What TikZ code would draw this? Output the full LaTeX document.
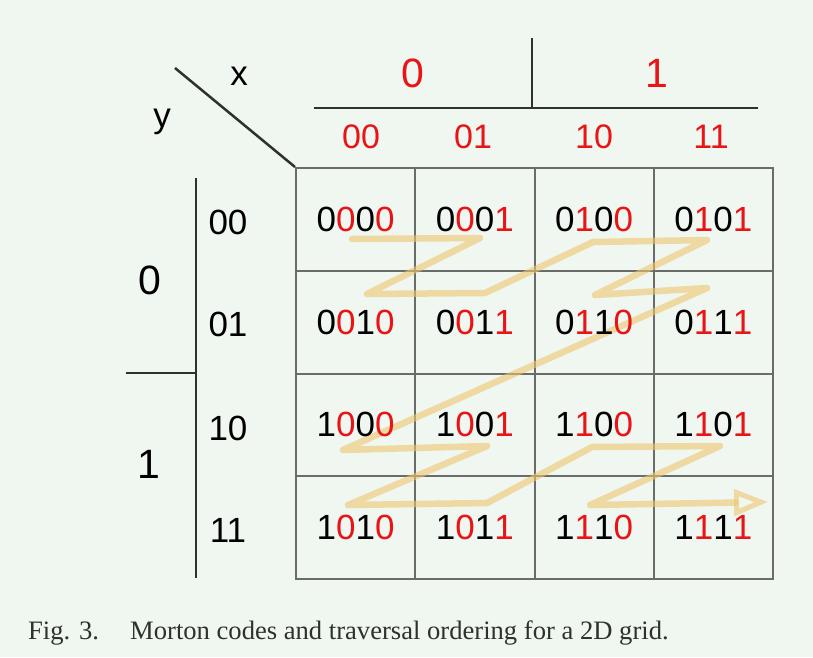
\documentclass[tikz,border=0pt]{standalone}
\usepackage{fontspec}
\setmainfont{Liberation Sans}
\newfontfamily\capfont{Liberation Serif}
\usetikzlibrary{arrows.meta}
\definecolor{bgc}{RGB}{240,246,240}
\definecolor{redc}{RGB}{232,20,22}
\definecolor{gridc}{RGB}{105,108,105}
\definecolor{linec}{RGB}{45,50,45}
\definecolor{pathc}{RGB}{236,199,109}
\newcommand{\mcode}[4]{#1\textcolor{redc}{#2}#3\textcolor{redc}{#4}}
\begin{document}
\begin{tikzpicture}[x=1pt,y=-1pt,
  cellbox/.style={draw=gridc,line width=2pt,minimum width=119.25pt,minimum height=102.75pt,inner sep=0pt,anchor=north west},
  codetxt/.style={inner sep=0pt,font=\fontsize{35}{40}\selectfont},
  sublbl/.style={inner sep=0pt,font=\fontsize{34}{40}\selectfont,text=redc},
  ylbl/.style={inner sep=0pt,font=\fontsize{35}{40}\selectfont},
  biglbl/.style={inner sep=0pt,font=\fontsize{41}{46}\selectfont},
  hdrline/.style={draw=linec,line width=2.5pt},
  zpath/.style={draw=pathc,opacity=0.6,line width=6.5pt,line join=round,line cap=round}
]
\fill[bgc] (0,0) rectangle (813,657);
\useasboundingbox (0,0) rectangle (813,657);
% grid cells
\foreach \r in {0,1,2,3}{
  \foreach \c in {0,1,2,3}{
    \node[cellbox] (cell\r\c) at ({295+119.25*\c},{167+102.75*\r}) {};
  }
}
% header lines
\coordinate (dgA) at (175,68);
\coordinate (dgB) at (295,167);
\draw[hdrline] (dgA) -- (dgB);
\coordinate (thL) at (314,108);
\coordinate (thR) at (758,108);
\coordinate (tvT) at (532,38);
\coordinate (tvB) at (532,108);
\draw[hdrline] (thL) -- (thR);
\draw[hdrline] (tvT) -- (tvB);
\coordinate (lvT) at (196,178);
\coordinate (lvB) at (196,578);
\coordinate (lhL) at (126,373);
\coordinate (lhR) at (196,373);
\draw[hdrline] (lvT) -- (lvB);
\draw[hdrline] (lhL) -- (lhR);
% zigzag path
\coordinate (p1) at (352,239);
\coordinate (p2) at (480,238);
\coordinate (p3) at (367,294);
\coordinate (p4) at (485,293);
\coordinate (p5) at (593,242);
\coordinate (p6) at (707,240);
\coordinate (p7) at (595,295);
\coordinate (p8) at (707,288);
\coordinate (p9) at (343,450);
\coordinate (p10) at (487,446);
\coordinate (p11) at (348,505);
\coordinate (p12) at (487,503);
\coordinate (p13) at (592,447);
\coordinate (p14) at (720,446);
\coordinate (p15) at (590,505);
\coordinate (p16) at (768,502);
\draw[zpath,-{Triangle[open,length=34pt,width=26pt,line width=5pt]}]
  (p1)--(p2)--(p3)--(p4)--(p5)--(p6)--(p7)--(p8)--(p9)--(p10)--(p11)--(p12)--(p13)--(p14)--(p15)--(p16);
% cell codes
\node[codetxt] (t00) at (cell00.center) {\mcode0000};
\node[codetxt] (t01) at (cell01.center) {\mcode0001};
\node[codetxt] (t02) at (cell02.center) {\mcode0100};
\node[codetxt] (t03) at (cell03.center) {\mcode0101};
\node[codetxt] (t10) at (cell10.center) {\mcode0010};
\node[codetxt] (t11) at (cell11.center) {\mcode0011};
\node[codetxt] (t12) at (cell12.center) {\mcode0110};
\node[codetxt] (t13) at (cell13.center) {\mcode0111};
\node[codetxt] (t20) at (cell20.center) {\mcode1000};
\node[codetxt] (t21) at (cell21.center) {\mcode1001};
\node[codetxt] (t22) at (cell22.center) {\mcode1100};
\node[codetxt] (t23) at (cell23.center) {\mcode1101};
\node[codetxt] (t30) at (cell30.center) {\mcode1010};
\node[codetxt] (t31) at (cell31.center) {\mcode1011};
\node[codetxt] (t32) at (cell32.center) {\mcode1110};
\node[codetxt] (t33) at (cell33.center) {\mcode1111};
% top labels
\node[biglbl,text=redc] (xhi0) at (413,73) {0};
\node[biglbl,text=redc] (xhi1) at (657,73) {1};
\node[sublbl] (xs0) at (361,137) {00};
\node[sublbl] (xs1) at (473,137) {01};
\node[sublbl] (xs2) at (594,137) {10};
\node[sublbl] (xs3) at (711,137) {11};
\node[ylbl,anchor=base] (xlab) at (239,85) {x};
\node[ylbl,anchor=base] (ylab) at (162,127) {y};
% left labels
\node[biglbl] (yhi0) at (150,280) {0};
\node[biglbl] (yhi1) at (149,464) {1};
\node[ylbl] (ys0) at (228,222) {00};
\node[ylbl] (ys1) at (228,324) {01};
\node[ylbl] (ys2) at (228,428) {10};
\node[ylbl] (ys3) at (228,530) {11};
% caption
\node[inner sep=0pt,anchor=base west,font=\capfont\fontsize{26.6}{30}\selectfont,text=linec] (capA) at (28,639) {Fig. 3.};
\node[inner sep=0pt,anchor=base west,font=\capfont\fontsize{26.6}{30}\selectfont,text=linec] (capB) at (130,639) {Morton codes and traversal ordering for a 2D grid.};
\end{tikzpicture}
\end{document}
